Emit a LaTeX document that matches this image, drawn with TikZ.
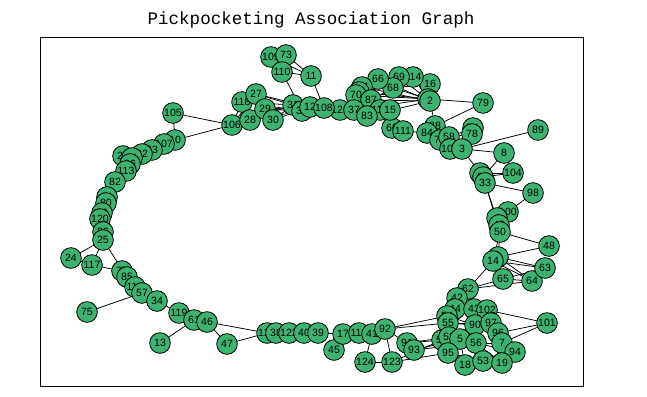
\documentclass[tikz,border=0pt]{standalone}
\usepackage{fontspec}
\setmainfont{Liberation Sans}
\newfontfamily\titlefont{Liberation Mono}
\usepackage{tikz}
\usetikzlibrary{backgrounds}
\definecolor{nodegreen}{HTML}{3CB371}

\begin{document}
\begin{tikzpicture}[
  x=0.03cm, y=-0.03cm,
  vert/.style={
    circle, draw=black, fill=nodegreen, line width=0.7pt, minimum size=0.62cm,
    inner sep=0pt, font=\fontsize{9}{9}\selectfont
  },
  edge/.style={draw=black, line width=0.65pt}
]
  \useasboundingbox (0,0) rectangle (647,397);

  % Title and axes frame
  \node (title) at (311,20) {\titlefont\fontsize{15}{15}\selectfont Pickpocketing Association Graph};
  \draw[line width=0.6pt] (40,37) rectangle (583,386);

  % Vertices (pixel positions of the layout)
  \foreach \n/\x/\y in {
    105/173/113, 106/232/125, 10/175/140, 107/164/144, 23/152/150, 22/142/154,
    20/123/156, 21/132/158, 36/130/164, 113/126/171, 82/115/182,
    81/107/197, 80/106/203, 99/102/213, 120/100/219, 26/103/232, 25/103/240,
    24/71/258, 117/92/265, 77/122/271, 85/127/277, 112/135/287, 57/142/293,
    34/157/301, 75/87/312, 119/179/313, 61/194/320, 46/207/322, 13/160/343, 47/227/344,
    125/267/333, 38/276/333, 122/289/333, 40/304/333, 39/318/333,
    45/334/350, 17/343/334, 116/359/333, 41/372/334, 92/385/329,
    124/365/362, 123/392/362, 91/407/343, 93/414/350,
    62/468/289, 42/457/298, 44/455/309, 43/474/309, 102/487/310,
    54/447/316, 55/448/323, 90/475/325, 97/491/323, 101/547/323, 96/498/333,
    7/502/343, 51/442/340, 52/449/337, 5/460/339, 56/476/343, 95/448/353,
    94/515/352, 18/465/365, 53/483/361, 19/502/363,
    65/503/279, 64/532/281, 63/545/268, 6/498/257, 14/493/261, 48/549/246,
    100/508/212, 4/497/218, 49/499/225, 50/500/232, 98/533/193,
    104/513/173, 9/480/173, 35/483/177, 33/485/183, 8/504/153,
    89/538/130, 74/473/128, 78/472/134, 88/435/126, 84/427/133, 71/440/140,
    58/449/137, 103/450/149, 3/462/149, 79/483/103,
    16/430/84, 1/428/99, 2/430/101, 114/413/77, 69/399/77, 68/393/88, 66/378/79,
    67/362/87, 76/359/92, 70/356/95, 87/371/100, 60/392/128, 111/403/131,
    115/380/110, 15/390/110, 121/340/110, 37/354/110, 83/367/116,
    109/271/57, 73/286/55, 110/282/72, 11/311/76,
    118/242/102, 27/256/94, 28/250/120, 29/265/109, 30/273/120,
    31/293/105, 32/302/111, 12/310/107, 108/324/108}
    \node[vert] (n\n) at (\x,\y) {\n};

  % Edges behind the vertices
  \begin{scope}[on background layer]
    \foreach \a/\b in {
      105/106, 105/10, 10/106, 10/107, 107/23, 23/22, 22/21, 21/20, 20/36,
      36/113, 113/82, 82/81, 81/80, 80/99, 99/120, 120/26, 26/25, 25/24,
      24/117, 25/117, 25/85, 117/77, 77/85, 85/112, 112/57, 57/34, 57/75,
      34/119, 119/61, 61/13, 61/46, 46/47, 46/125, 47/125, 125/38, 38/122,
      122/40, 40/39, 39/17, 17/45, 17/116, 116/41, 41/92, 41/124, 92/123,
      124/123, 92/91, 91/93, 92/54, 92/55, 91/51, 91/52, 93/5, 93/56,
      123/95, 123/51,
      106/118, 106/27, 106/29, 118/31, 118/32, 27/31, 27/12, 29/32, 29/12,
      28/31, 28/32, 30/31, 30/12, 29/30, 28/29, 27/118, 118/28,
      109/73, 109/110, 73/110, 73/11, 110/11, 109/11, 110/32, 11/108,
      31/32, 32/12, 12/108, 108/121, 121/37, 37/83, 37/70, 37/87, 70/67,
      76/67, 70/76, 87/15, 83/115, 115/15, 67/66, 66/68, 68/69, 69/114,
      70/1, 87/2, 67/2, 66/2, 68/1, 69/2, 114/1, 114/16, 68/16, 37/1, 83/2,
      76/1, 87/68, 1/2, 2/16, 1/79, 2/88, 79/88, 15/60, 60/111, 111/84,
      84/88, 88/58, 84/71, 71/58, 58/103, 103/3, 58/3, 74/78, 78/58, 74/58,
      78/3, 3/89, 3/8, 3/9, 8/35, 9/35, 35/33, 35/104, 9/104, 33/98, 33/50,
      33/49, 98/100, 100/4, 4/49, 49/50, 50/48, 50/14, 50/6, 6/14, 6/48,
      14/63, 6/63, 14/65, 14/64, 6/64, 65/64, 65/63, 14/62, 62/65, 62/64,
      62/42, 42/44, 44/54, 54/55, 44/43, 43/102, 43/90, 102/97, 102/101,
      96/101, 7/101, 97/96, 96/7, 90/56, 55/90, 55/51, 51/52, 52/5, 5/56,
      5/95, 51/95, 95/18, 18/53, 53/19, 19/94, 94/96, 56/53, 56/19, 5/18,
      56/7, 55/97, 54/90, 5/53, 95/53, 52/19, 56/94, 90/97}
      \draw[edge] (n\a.center) -- (n\b.center);
  \end{scope}
\end{tikzpicture}
\end{document}
